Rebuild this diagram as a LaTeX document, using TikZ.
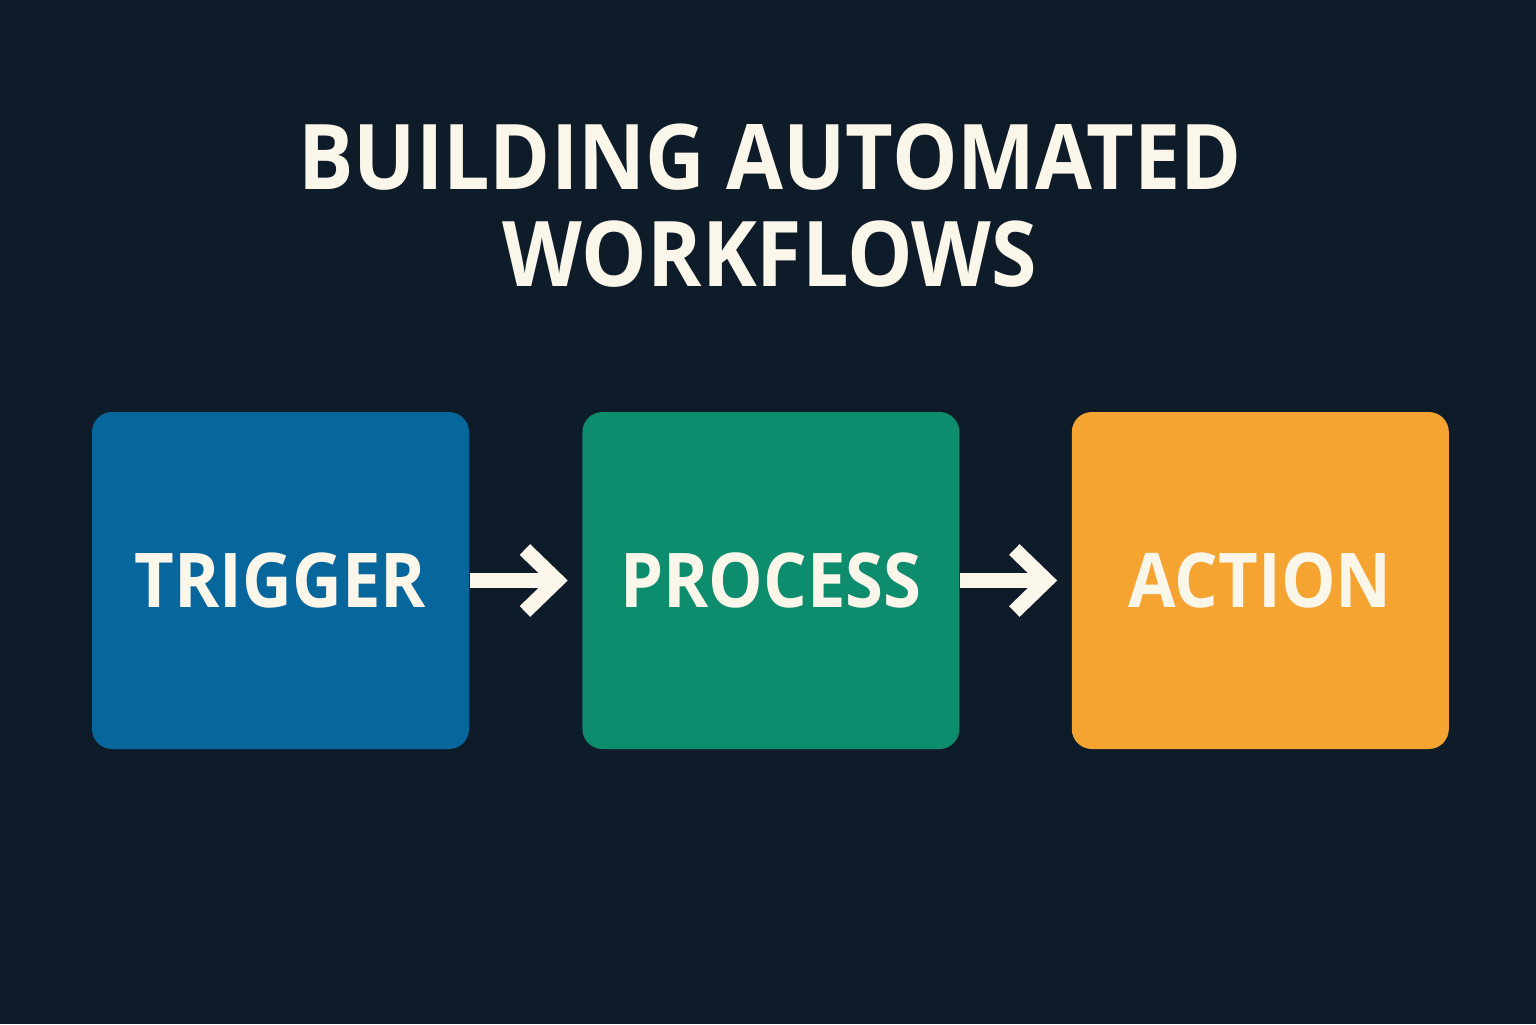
\documentclass[tikz,border=0pt]{standalone}
\usepackage{fontspec}
\setmainfont[FakeStretch=0.91]{Open Sans}
\usepackage{tikz}
\usetikzlibrary{positioning}
\usetikzlibrary{arrows.meta}
\definecolor{fond}{HTML}{0E1C2A}
\definecolor{creme}{HTML}{FBF6EA}
\definecolor{bleu}{HTML}{07669B}
\definecolor{vert}{HTML}{0E8C6E}
\definecolor{orange}{HTML}{F5A331}

\begin{document}
\begin{tikzpicture}[
    bloc/.style={rounded corners=0.2cm, minimum width=3.77cm, minimum height=3.37cm,
        text=creme, font=\bfseries\fontsize{21.5}{24}\selectfont, inner sep=0pt},
    fleche/.style={draw=creme, line width=0.15cm, shorten >=0.14cm,
        -{Straight Barb[length=0.32cm, width=0.62cm]}}
]
            \fill[fond] (0,0) rectangle (15.36,-10.24);
            \useasboundingbox (0,0) rectangle (15.36,-10.24);
            % Titre
            \node[text=creme, align=center, font=\bfseries\fontsize{25.8}{27.6}\selectfont]
                (titre) at (7.70,-2.06) {BUILDING AUTOMATED\\WORKFLOWS};
            % Les blocs
            \node[bloc, fill=bleu] (trigger) at (2.805,-5.805) {TRIGGER};
            \node[bloc, fill=vert, right=1.12cm of trigger] (process) {PROCESS};
            \node[bloc, fill=orange, right=1.11cm of process] (action) {ACTION};
            % Les fleches
            \draw[fleche] (trigger) -- (process);
            \draw[fleche] (process) -- (action);
        \end{tikzpicture}
\end{document}
